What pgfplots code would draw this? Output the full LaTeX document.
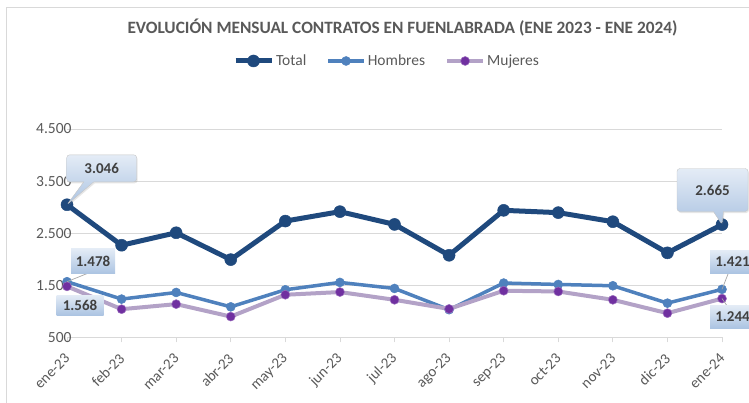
\documentclass[border=0pt]{standalone}
\usepackage{fontspec}
\setmainfont{Carlito}
\usepackage{pgfplots}
\pgfplotsset{compat=1.18}
\usetikzlibrary{shapes.callouts,shadows}
\definecolor{cTotal}{RGB}{31,73,125}
\definecolor{cHom}{RGB}{79,129,189}
\definecolor{cMujL}{RGB}{179,162,199}
\definecolor{cMujM}{RGB}{112,48,160}
\definecolor{txt}{RGB}{89,89,89}
\definecolor{lbl}{RGB}{64,64,64}
\definecolor{gridc}{RGB}{217,217,217}
\definecolor{boxT}{RGB}{228,236,246}
\definecolor{boxB}{RGB}{172,196,226}

\pgfplotstableread{
x Total Hombres Mujeres
0 3046 1568 1478
1 2268 1234 1040
2 2508 1361 1137
3 1992 1085 898
4 2732 1413 1317
5 2913 1554 1369
6 2668 1438 1220
7 2075 1030 1045
8 2938 1542 1394
9 2894 1515 1380
10 2720 1490 1220
11 2122 1156 963
12 2665 1421 1244
}\datatable

\begin{document}
\begin{tikzpicture}[x=1bp,y=1bp]
\path[use as bounding box] (0,0) rectangle (749,402);
\clip (0,0) rectangle (749,402);
\draw[gridc, line width=1bp] (6,-5) -- (6,394) -- (760,394);
\node[font=\fontsize{17.3bp}{19bp}\selectfont\bfseries, text=txt] at (402.5,374) {EVOLUCIÓN MENSUAL CONTRATOS EN FUENLABRADA (ENE 2023 - ENE 2024)};
\begin{axis}[
  at={(67bp,64.7bp)}, anchor=south west, scale only axis,
  width=655bp, height=208.3bp,
  xmin=0, xmax=12, ymin=500, ymax=4500,
  ytick={500,1500,2500,3500,4500},
  xtick={0,...,12},
  xticklabels={ene-23,feb-23,mar-23,abr-23,may-23,jun-23,jul-23,ago-23,sep-23,oct-23,nov-23,dic-23,ene-24},
  axis x line*=bottom, axis y line*=left,
  y axis line style={draw=none}, ytick style={draw=none},
  x axis line style={gridc, line width=0.8bp},
  xtick style={gridc, line width=0.8bp},
  tick align=outside, major tick length=5bp,
  ymajorgrids, major grid style={gridc, line width=0.8bp},
  /pgf/number format/assume math mode=true,
  /pgf/number format/1000 sep={.},
  yticklabel style={font=\fontsize{15.5bp}{18bp}\selectfont, text=txt, xshift=13bp},
  xticklabel style={font=\fontsize{15bp}{18bp}\selectfont, text=txt, inner sep=1bp, xshift=1bp, yshift=-13bp, anchor=east, rotate=45},
  legend style={at={(0.4885,1.3265)}, anchor=center, draw=none, fill=none,
    font=\fontsize{15.5bp}{18bp}\selectfont, text=txt,
    /tikz/every even column/.append style={column sep=18bp}},
  legend columns=3, legend cell align=left,
  legend image code/.code={\draw[mark repeat=2,mark phase=2,#1] plot coordinates {(0bp,0bp) (18bp,0bp) (36bp,0bp)};},
  clip=false,
]
\addplot[cTotal, line width=5bp, mark=*, mark size=6bp, mark options={fill=cTotal, draw=cTotal, line width=0.5bp}] table[x=x,y=Total] {\datatable};
\addlegendentry{Total}
\addplot[cHom, line width=3.5bp, mark=*, mark size=4.5bp, mark options={fill=cHom, draw=cHom, line width=0.5bp}] table[x=x,y=Hombres] {\datatable};
\addlegendentry{Hombres}
\addplot[cMujL, line width=4bp, mark=*, mark size=4.5bp, mark options={fill=cMujM, draw=cMujM!70, line width=0.5bp}] table[x=x,y=Mujeres] {\datatable};
\addlegendentry{Mujeres}
\coordinate (t0) at (axis cs:0,3046);
\coordinate (t12) at (axis cs:12,2665);
\coordinate (h0) at (axis cs:0,1568);
\coordinate (h12) at (axis cs:12,1421);
\coordinate (m12) at (axis cs:12,1244);
\end{axis}
% callouts
\tikzset{cbox/.style={font=\fontsize{15bp}{17bp}\selectfont\bfseries, text=lbl, top color=boxT, bottom color=boxB, inner sep=0pt}}
\node[cbox, rectangle callout, rounded corners=3bp, draw=gray!45, minimum width=70bp, minimum height=27bp,
  callout absolute pointer={(t0)}, callout pointer width=10bp,
  drop shadow={opacity=0.2, shadow xshift=1bp, shadow yshift=-1.5bp}] at (101.7,233.7) {3.046};
\node[cbox, rectangle callout, rounded corners=3bp, draw=gray!45, minimum width=71bp, minimum height=43bp,
  callout absolute pointer={(t12)}, callout pointer width=10bp,
  drop shadow={opacity=0.2, shadow xshift=1bp, shadow yshift=-1.5bp}] at (712.5,212) {2.665};
\draw[gray!70, line width=0.7bp] (91.7,130.3) -- (h0);
\draw[gray!70, line width=0.7bp] (728,128) -- (h12);
\draw[gray!70, line width=0.7bp] (m12) -- (730,92);
\node[cbox, minimum width=44bp, minimum height=25bp] at (93,141) {1.478};
\node[cbox, minimum width=47bp, minimum height=20bp] at (80,97) {1.568};
\node[cbox, minimum width=45bp, minimum height=23bp] at (732.5,140.5) {1.421};
\node[cbox, minimum width=45bp, minimum height=23bp] at (732.5,85.5) {1.244};
\end{tikzpicture}
\end{document}
